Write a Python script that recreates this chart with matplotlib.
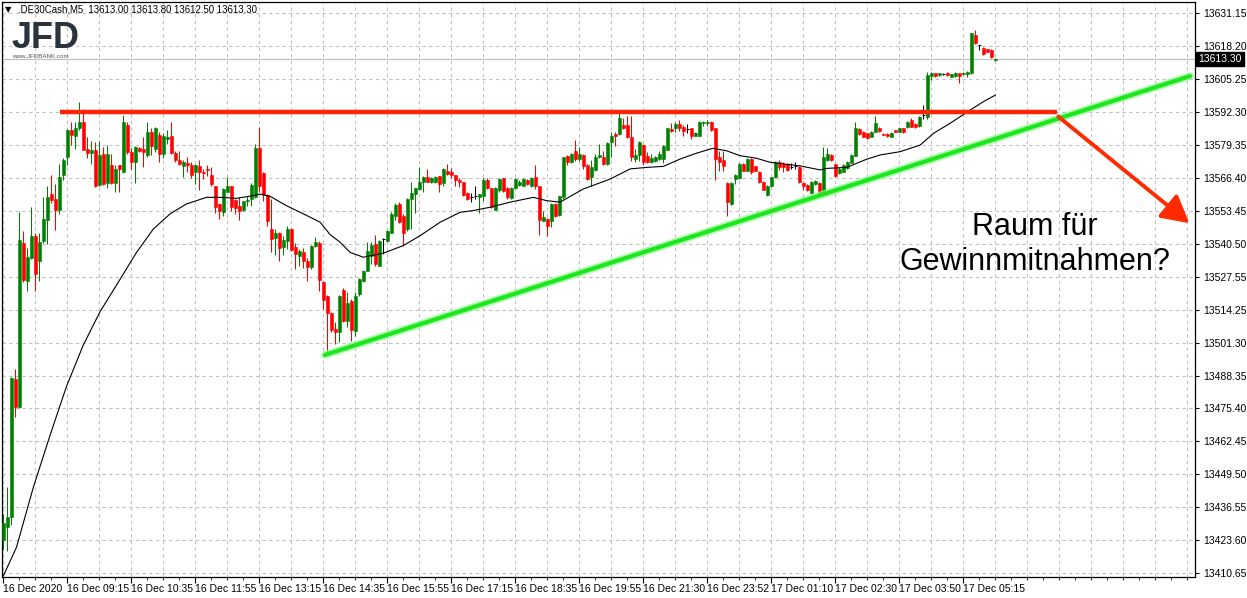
import numpy as np
import matplotlib
matplotlib.use("Agg")
import matplotlib.pyplot as plt

plt.rcParams['font.family'] = ['Liberation Sans', 'DejaVu Sans']

# M5 candles, .DE30Cash, 16-17 Dec 2020
opens = [13423.7, 13428.9, 13432.9, 13487.2, 13476.1, 13540.6, 13525.8, 13534.7, 13543.6, 13533.7,
         13541.5, 13549.9, 13560.2, 13558.0, 13553.9, 13567.6, 13574.5, 13585.3, 13582.8, 13586.1,
         13588.3, 13577.9, 13576.0, 13577.2, 13563.6, 13575.7, 13564.2, 13571.3, 13564.2, 13571.6,
         13568.8, 13587.2, 13576.5, 13572.8, 13578.0, 13577.8, 13575.4, 13584.3, 13577.8, 13583.3,
         13575.8, 13581.7, 13583.0, 13576.2, 13573.6, 13571.2, 13572.3, 13571.5, 13568.6, 13570.9,
         13568.7, 13569.9, 13567.5, 13563.1, 13556.1, 13553.1, 13560.9, 13563.1, 13557.8, 13555.2,
         13553.9, 13557.4, 13558.1, 13558.7, 13578.0, 13568.3, 13559.6, 13546.2, 13542.7, 13544.7,
         13539.0, 13541.6, 13546.2, 13539.0, 13535.7, 13537.3, 13533.8, 13531.4, 13539.7, 13540.7,
         13525.5, 13520.0, 13513.1, 13506.8, 13505.5, 13522.3, 13510.1, 13518.0, 13506.2, 13520.5,
         13525.9, 13529.8, 13535.7, 13540.3, 13531.8, 13542.3, 13541.5, 13544.7, 13551.5, 13556.0,
         13551.5, 13546.2, 13558.1, 13560.0, 13561.8, 13564.9, 13566.6, 13564.9, 13564.9, 13567.0,
         13564.4, 13569.2, 13568.6, 13567.5, 13565.7, 13564.6, 13560.4, 13558.9, 13559.3, 13558.7,
         13559.1, 13565.7, 13562.3, 13553.9, 13561.5, 13566.2, 13562.4, 13558.6, 13562.3, 13563.6,
         13563.3, 13565.7, 13563.1, 13566.6, 13563.1, 13549.5, 13550.2, 13549.5, 13556.1, 13551.8,
         13558.7, 13575.1, 13572.5, 13577.1, 13573.8, 13575.4, 13571.5, 13566.6, 13569.6, 13574.5,
         13574.5, 13571.9, 13580.7, 13583.7, 13583.7, 13587.2, 13587.2, 13582.4, 13573.8, 13575.4,
         13579.4, 13575.1, 13572.8, 13573.2, 13573.8, 13573.8, 13577.5, 13585.7, 13585.9, 13587.6,
         13586.3, 13585.8, 13585.9, 13583.0, 13583.0, 13588.0, 13588.0, 13588.3, 13585.9, 13574.5,
         13573.6, 13564.4, 13556.1, 13565.9, 13566.2, 13571.9, 13569.2, 13573.8, 13570.9, 13568.8,
         13564.9, 13559.6, 13563.1, 13566.6, 13572.8, 13571.8, 13571.8, 13570.8, 13571.1, 13570.8,
         13564.5, 13563.6, 13560.3, 13564.0, 13564.5, 13560.3, 13573.4, 13575.4, 13571.8, 13568.2,
         13568.8, 13570.1, 13572.4, 13575.0, 13585.5, 13584.6, 13583.9, 13582.6, 13584.6, 13585.9,
         13583.7, 13583.7, 13582.6, 13585.2, 13584.6, 13585.9, 13586.3, 13589.2, 13587.6, 13586.8,
         13591.0, 13590.5, 13606.5, 13607.6, 13606.9, 13607.3, 13607.8, 13606.3, 13606.5, 13607.6,
         13607.3, 13607.3, 13607.8, 13622.7, 13618.7, 13617.4, 13617.0, 13616.8, 13613.0]
highs = [13434.0, 13444.4, 13487.9, 13490.9, 13552.9, 13545.5, 13538.8, 13554.8, 13544.8, 13544.8,
         13558.8, 13563.2, 13567.6, 13563.9, 13572.0, 13574.3, 13585.8, 13588.3, 13588.3, 13596.4,
         13593.4, 13582.4, 13580.9, 13580.4, 13580.9, 13578.4, 13579.4, 13575.7, 13571.3, 13571.6,
         13591.2, 13588.3, 13578.0, 13578.8, 13578.4, 13582.4, 13588.5, 13585.9, 13586.3, 13584.3,
         13584.1, 13585.4, 13588.3, 13577.1, 13577.1, 13573.6, 13574.5, 13572.5, 13571.7, 13573.6,
         13569.9, 13571.5, 13570.7, 13563.3, 13556.3, 13562.3, 13566.7, 13563.3, 13558.1, 13558.7,
         13557.4, 13559.4, 13564.4, 13579.7, 13586.4, 13568.6, 13559.9, 13558.1, 13546.2, 13544.9,
         13543.6, 13547.6, 13546.5, 13540.7, 13538.4, 13538.6, 13534.7, 13539.9, 13543.0, 13541.3,
         13525.7, 13520.2, 13513.4, 13509.4, 13520.2, 13522.8, 13521.3, 13518.6, 13521.3, 13527.0,
         13530.2, 13541.2, 13541.2, 13543.9, 13542.0, 13542.8, 13545.8, 13552.8, 13556.5, 13556.8,
         13552.0, 13558.3, 13564.6, 13562.5, 13570.5, 13567.0, 13569.9, 13566.6, 13567.0, 13567.2,
         13570.4, 13571.7, 13570.2, 13567.7, 13566.2, 13564.9, 13560.7, 13560.4, 13563.1, 13560.0,
         13566.2, 13566.2, 13562.5, 13562.8, 13566.3, 13566.5, 13562.6, 13562.8, 13566.3, 13565.5,
         13566.2, 13566.0, 13566.6, 13571.5, 13563.3, 13553.5, 13550.4, 13556.4, 13556.4, 13559.4,
         13574.7, 13575.4, 13576.0, 13581.1, 13578.4, 13575.6, 13571.7, 13573.6, 13575.8, 13579.7,
         13577.1, 13580.4, 13584.3, 13584.3, 13592.0, 13589.9, 13590.9, 13590.6, 13577.8, 13581.0,
         13579.6, 13576.7, 13575.8, 13575.1, 13577.1, 13579.3, 13586.2, 13588.0, 13588.3, 13589.3,
         13587.2, 13587.6, 13586.1, 13584.4, 13588.6, 13588.9, 13589.0, 13588.9, 13586.2, 13577.1,
         13577.1, 13564.6, 13564.7, 13567.8, 13572.2, 13572.2, 13574.1, 13574.1, 13571.2, 13569.1,
         13565.2, 13563.6, 13566.9, 13573.1, 13573.4, 13572.8, 13572.4, 13572.4, 13572.8, 13571.0,
         13564.7, 13563.8, 13565.2, 13565.5, 13564.7, 13578.4, 13578.0, 13575.7, 13572.0, 13570.8,
         13571.7, 13573.0, 13575.7, 13588.3, 13585.9, 13584.9, 13584.2, 13584.9, 13590.8, 13586.3,
         13583.9, 13583.9, 13584.6, 13585.4, 13586.1, 13586.1, 13588.8, 13589.8, 13587.9, 13590.8,
         13595.0, 13608.2, 13608.0, 13607.8, 13607.8, 13607.6, 13608.0, 13607.5, 13608.0, 13607.8,
         13608.0, 13608.4, 13623.5, 13624.6, 13618.9, 13618.1, 13617.3, 13617.0, 13613.8]
lows = [13420.0, 13419.3, 13429.6, 13472.1, 13475.7, 13525.3, 13521.9, 13534.4, 13521.9, 13525.8,
        13540.6, 13540.3, 13556.5, 13545.9, 13552.1, 13565.7, 13571.3, 13579.4, 13577.9, 13585.3,
        13577.2, 13574.3, 13572.0, 13562.9, 13563.2, 13563.6, 13562.5, 13563.9, 13560.7, 13561.0,
        13568.4, 13575.8, 13569.9, 13564.4, 13576.5, 13570.5, 13574.5, 13575.4, 13576.5, 13572.5,
        13574.1, 13579.7, 13575.8, 13572.5, 13571.5, 13566.6, 13568.6, 13566.2, 13564.0, 13561.7,
        13565.9, 13567.0, 13563.1, 13552.6, 13550.2, 13551.5, 13560.7, 13553.5, 13552.2, 13549.9,
        13553.5, 13555.2, 13555.2, 13558.3, 13560.9, 13557.4, 13547.3, 13537.0, 13536.1, 13533.8,
        13536.0, 13538.4, 13537.7, 13530.5, 13531.5, 13530.7, 13525.9, 13530.5, 13539.0, 13521.6,
        13514.7, 13497.6, 13505.8, 13500.9, 13501.6, 13509.4, 13507.5, 13502.2, 13504.2, 13519.8,
        13525.5, 13529.5, 13532.4, 13531.8, 13531.5, 13536.4, 13541.0, 13544.5, 13549.8, 13548.5,
        13539.7, 13545.5, 13546.2, 13552.5, 13561.5, 13560.9, 13564.6, 13564.5, 13564.4, 13560.9,
        13563.3, 13567.5, 13566.2, 13563.3, 13562.7, 13559.4, 13557.8, 13556.8, 13558.1, 13552.5,
        13557.4, 13562.0, 13554.4, 13553.6, 13561.0, 13560.8, 13558.1, 13558.2, 13562.0, 13563.2,
        13563.0, 13563.6, 13562.8, 13562.0, 13543.9, 13549.2, 13543.6, 13547.0, 13550.8, 13551.5,
        13558.1, 13571.5, 13572.2, 13573.2, 13573.2, 13569.9, 13565.7, 13563.3, 13569.2, 13574.2,
        13571.5, 13571.6, 13574.5, 13579.1, 13583.4, 13585.6, 13582.0, 13573.2, 13572.5, 13573.2,
        13571.5, 13572.2, 13572.2, 13572.5, 13573.6, 13572.3, 13577.2, 13584.6, 13584.6, 13585.0,
        13583.0, 13584.1, 13581.7, 13582.7, 13582.7, 13586.7, 13586.8, 13585.0, 13565.7, 13569.2,
        13569.2, 13551.5, 13555.8, 13564.0, 13566.0, 13568.9, 13568.9, 13567.9, 13568.9, 13564.3,
        13561.4, 13559.4, 13562.8, 13566.3, 13569.5, 13568.8, 13569.2, 13569.7, 13569.7, 13564.5,
        13561.6, 13561.3, 13560.0, 13563.6, 13560.0, 13560.0, 13573.2, 13573.1, 13566.8, 13567.9,
        13568.5, 13569.8, 13572.1, 13574.8, 13583.3, 13582.3, 13581.6, 13582.3, 13584.3, 13584.6,
        13583.1, 13582.6, 13582.4, 13584.4, 13584.3, 13584.2, 13586.1, 13586.3, 13586.1, 13586.6,
        13589.6, 13589.5, 13604.9, 13606.3, 13606.5, 13606.9, 13606.7, 13606.1, 13606.3, 13603.9,
        13607.1, 13606.0, 13607.5, 13619.1, 13616.8, 13614.8, 13615.8, 13613.6, 13612.5]
closes = [13430.3, 13432.9, 13487.5, 13476.1, 13541.8, 13526.3, 13535.1, 13543.6, 13528.5, 13541.0,
          13550.3, 13558.8, 13557.7, 13553.6, 13566.9, 13573.5, 13585.3, 13583.4, 13586.1, 13588.3,
          13577.5, 13576.0, 13577.5, 13563.2, 13575.4, 13563.9, 13575.7, 13564.2, 13569.8, 13569.8,
          13588.3, 13576.5, 13572.8, 13578.4, 13577.1, 13576.7, 13584.6, 13578.8, 13585.9, 13575.8,
          13582.8, 13582.6, 13576.2, 13573.6, 13572.0, 13572.5, 13571.5, 13567.5, 13571.5, 13568.6,
          13568.2, 13569.5, 13564.0, 13554.9, 13553.2, 13562.0, 13563.1, 13554.9, 13554.5, 13553.5,
          13557.2, 13557.8, 13563.6, 13578.0, 13563.3, 13559.6, 13549.5, 13542.3, 13544.7, 13538.6,
          13542.0, 13546.2, 13538.1, 13536.3, 13537.4, 13533.8, 13531.4, 13539.7, 13541.0, 13526.3,
          13518.4, 13513.1, 13506.6, 13505.8, 13520.0, 13510.1, 13517.1, 13506.6, 13520.0, 13526.6,
          13529.8, 13537.7, 13539.9, 13532.4, 13541.6, 13542.3, 13545.5, 13552.2, 13555.7, 13549.0,
          13544.5, 13558.1, 13560.4, 13562.3, 13564.9, 13566.9, 13564.9, 13566.2, 13566.6, 13564.0,
          13569.9, 13567.9, 13567.5, 13565.7, 13564.9, 13559.6, 13558.1, 13558.9, 13559.3, 13559.9,
          13565.7, 13562.3, 13554.8, 13562.5, 13565.9, 13561.2, 13558.7, 13562.5, 13565.9, 13564.9,
          13565.9, 13564.0, 13566.2, 13563.3, 13549.9, 13550.8, 13547.3, 13556.1, 13551.3, 13559.1,
          13574.5, 13572.5, 13575.8, 13573.8, 13575.8, 13570.9, 13565.9, 13570.5, 13574.5, 13575.4,
          13571.9, 13580.1, 13583.0, 13583.0, 13589.9, 13585.9, 13582.6, 13574.5, 13575.4, 13580.7,
          13572.5, 13572.5, 13574.1, 13574.5, 13575.7, 13579.1, 13585.9, 13584.9, 13587.6, 13585.9,
          13585.0, 13585.8, 13583.0, 13584.1, 13588.3, 13588.3, 13588.4, 13585.4, 13573.8, 13572.8,
          13571.2, 13556.8, 13564.4, 13567.5, 13571.9, 13569.2, 13573.8, 13568.8, 13569.2, 13564.6,
          13561.7, 13563.3, 13566.6, 13572.8, 13570.8, 13570.8, 13569.5, 13570.8, 13571.1, 13564.9,
          13563.2, 13561.6, 13564.9, 13565.3, 13560.3, 13574.7, 13575.8, 13573.4, 13567.1, 13570.0,
          13571.4, 13572.8, 13575.4, 13585.9, 13583.7, 13582.6, 13581.9, 13584.6, 13587.9, 13585.0,
          13583.3, 13582.9, 13584.2, 13584.6, 13585.9, 13584.6, 13588.5, 13586.5, 13586.3, 13590.5,
          13591.0, 13606.9, 13607.8, 13606.5, 13607.6, 13607.3, 13606.9, 13607.3, 13607.8, 13606.5,
          13607.8, 13608.2, 13623.3, 13619.7, 13618.7, 13615.2, 13616.1, 13613.9, 13613.3]

# moving average (black line), sampled along the chart
ma_bar = [0, 3.3, 7.5, 11.7, 15.8, 20, 24.2, 28.3, 33.3, 37.5, 41.7, 45.8, 50.8, 54.2, 58.3, 62.5,
          64.2, 66.7, 70.8, 75, 79.2, 81.7, 84.2, 86.7, 90, 95, 100, 104.2, 109.2, 114.2, 117.5,
          121.7, 126.7, 132.5, 135.8, 139.2, 145, 151.7, 156.7, 160.8, 165, 169.2, 173.3, 177.3,
          180.7, 184.2, 188.3, 191.7, 199.2, 204.2, 205.8, 210.8, 215.8, 219.2, 224.2, 229.2,
          232.5, 236.7, 241.7, 245, 248]
ma_val = [13409.5, 13420.8, 13444.4, 13465.0, 13484.2, 13500.5, 13513.7, 13524.1, 13537.0, 13546.2,
          13552.2, 13556.1, 13558.7, 13558.7, 13558.3, 13559.4, 13560.0, 13559.1, 13555.4, 13552.2,
          13548.9, 13544.0, 13541.0, 13537.0, 13535.1, 13536.7, 13539.7, 13543.6, 13548.9, 13552.8,
          13553.5, 13554.8, 13556.8, 13558.7, 13557.4, 13556.8, 13562.0, 13565.9, 13569.9, 13570.5,
          13570.9, 13573.8, 13576.1, 13578.0, 13577.1, 13575.1, 13574.1, 13572.5, 13571.1, 13569.5,
          13570.1, 13570.5, 13573.7, 13575.4, 13576.7, 13579.3, 13583.9, 13587.9, 13593.1, 13596.4,
          13599.0]

price_ticks = ['13631.15', '13618.20', '13605.25', '13592.30', '13579.35', '13566.40', '13553.45',
               '13540.50', '13527.55', '13514.25', '13501.30', '13488.35', '13475.40', '13462.45',
               '13449.50', '13436.55', '13423.60', '13410.65']
time_ticks = ['16 Dec 2020', '16 Dec 09:15', '16 Dec 10:35', '16 Dec 11:55', '16 Dec 13:15',
              '16 Dec 14:35', '16 Dec 15:55', '16 Dec 17:15', '16 Dec 18:35', '16 Dec 19:55',
              '16 Dec 21:30', '16 Dec 23:52', '17 Dec 01:10', '17 Dec 02:30', '17 Dec 03:50',
              '17 Dec 05:15']

resistance = 13592.3
trend_bars = [80.4, 296.7]
trend_vals = [13496.6, 13606.5]
last_price = 13613.3

o = np.array(opens)
h = np.array(highs)
l = np.array(lows)
c = np.array(closes)
x = np.arange(len(o))

fig = plt.figure(figsize=(12.47, 5.98), dpi=100)
ax = fig.add_axes([2/1247, 21/598, 1193/1247, 575/598])

ax.set_xlim(-0.325, 297.9)
ax.set_ylim(13409.08, 13635.68)

# grid
grid_kw = dict(color='#c0c0c0', lw=0.8, ls=(0, (3, 3)), zorder=0)
ytick_pos = np.linspace(13631.15, 13410.65, len(price_ticks))
for yv in ytick_pos:
    ax.axhline(yv, **grid_kw)
for xv in range(0, 300, 8):
    ax.axvline(xv, **grid_kw)

ax.axhline(last_price, color='#c0c0c0', lw=0.9, zorder=1)

# candles
up = c > o
down = c < o
doji = c == o
col = np.where(up, '#008000', np.where(down, '#ff0000', '#000000'))
ax.vlines(x, l, h, colors=col, lw=0.75, zorder=2)
body = np.maximum(np.abs(c - o), 0.3)
ax.bar(x[~doji], body[~doji], bottom=np.minimum(o, c)[~doji], width=0.72,
       color=col[~doji], edgecolor=col[~doji], lw=0.4, zorder=3)
ax.hlines(o[doji], x[doji] - 0.4, x[doji] + 0.4, colors='black', lw=0.75, zorder=3)

ax.plot(ma_bar, ma_val, color='black', lw=0.8, zorder=4)

# drawn objects
ax.plot([14.2, 263.4], [resistance, resistance], color='#ff2400', lw=3.2,
        solid_capstyle='butt', zorder=5)
ax.plot(trend_bars, trend_vals, color='#8dfb8d', lw=5.5, alpha=0.7,
        solid_capstyle='round', zorder=5)
ax.plot(trend_bars, trend_vals, color='#1ee61e', lw=3.0,
        solid_capstyle='round', zorder=6)
ax.annotate('', xy=(296.5, 13548.5), xytext=(263.75, 13590.5),
            arrowprops=dict(arrowstyle='-|>,head_length=0.55,head_width=0.3',
                            color='#ff2a00', lw=2.8, mutation_scale=30,
                            shrinkA=0, shrinkB=0), zorder=6)

ax.text(257.9, 13547.1, 'Raum für', ha='center', va='center', fontsize=22,
        color='black', zorder=7)
ax.text(257.9, 13533.3, 'Gewinnmitnahmen?', ha='center', va='center', fontsize=22,
        color='black', zorder=7)

# axes
ax.yaxis.tick_right()
ax.set_yticks(ytick_pos)
ax.set_yticklabels(price_ticks)
ax.tick_params(axis='y', length=3, width=0.8, labelsize=7.5, pad=3, colors='black')
ax.set_xticks(np.arange(0, 16 * len(time_ticks), 16))
ax.set_xticklabels(time_ticks)
for lab in ax.get_xticklabels():
    lab.set_horizontalalignment('left')
ax.set_xticks(np.arange(0, 297, 4), minor=True)
ax.tick_params(axis='x', which='major', length=4, width=0.8, labelsize=7.5, pad=1)
ax.tick_params(axis='x', which='minor', length=2, width=0.6)
for s in ax.spines.values():
    s.set_color('black')
    s.set_linewidth(0.9)

ax.text(1.003, last_price, '13613.30', transform=ax.get_yaxis_transform(),
        ha='left', va='center', fontsize=7.5, color='white', zorder=8,
        bbox=dict(boxstyle='square,pad=0.2', fc='black', ec='black'))

# header and logo
fig.text(5/1247, 1 - 10/598, '▼', fontsize=6, va='center', ha='left',
         family=['DejaVu Sans'])
fig.text(18/1247, 1 - 10/598, '.DE30Cash,M5  13613.00 13613.80 13612.50 13613.30',
         fontsize=6.9, va='center', ha='left')
fig.text(11/1247, 1 - 38/598, 'JFD', fontsize=26, weight='bold', color='#2b333d',
         va='center', ha='left')
fig.text(12/1247, 1 - 57/598, 'www.JFDBANK.com', fontsize=4.5, color='#555555',
         va='center', ha='left')

fig.savefig('out.png', dpi=100)
